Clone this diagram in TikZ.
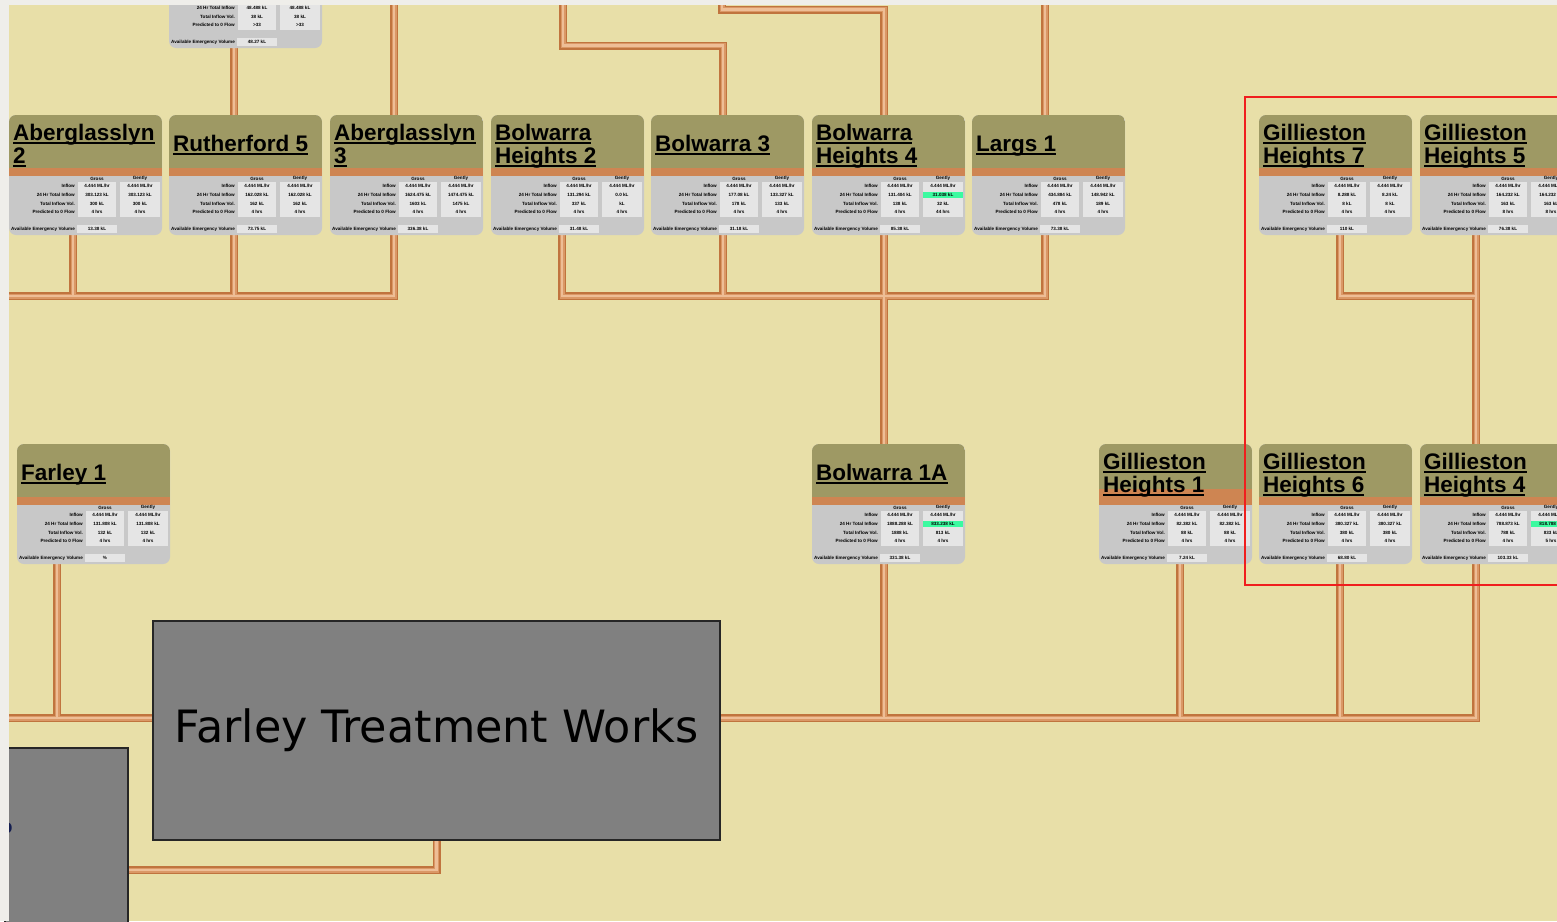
\documentclass[tikz,border=0pt]{standalone}
\usepackage{fontspec}
\setmainfont{Liberation Sans}
\newfontfamily\ftwfont{DejaVu Sans}
\usetikzlibrary{calc}
\definecolor{page}{RGB}{239,238,234}
\definecolor{canvas}{RGB}{232,223,168}
\definecolor{cardolive}{RGB}{158,153,100}
\definecolor{cardorange}{RGB}{206,133,82}
\definecolor{cardgray}{RGB}{200,200,200}
\definecolor{cellwhite}{RGB}{229,229,229}
\definecolor{hlgreen}{RGB}{60,250,160}
\definecolor{pipedark}{RGB}{192,116,62}
\definecolor{pipemid}{RGB}{218,152,102}
\definecolor{pipelight}{RGB}{238,190,150}
\definecolor{plantgray}{RGB}{128,128,128}
\definecolor{selred}{RGB}{240,30,30}
\definecolor{fragblue}{RGB}{20,30,80}
\pgfdeclarelayer{bg}\pgfdeclarelayer{pipes}\pgfdeclarelayer{fore}
\pgfsetlayers{bg,pipes,main,fore}
\newcommand\titlefont{\fontsize{22.5}{24}\selectfont\bfseries}
\newcommand\tinyfont{\fontsize{4.6}{5}\selectfont\bfseries}
\newcommand\ulx[1]{\setbox0=\hbox{#1}\rlap{\rule[-4pt]{\wd0}{2pt}}\box0}
\newcommand\hlv[1]{{\fboxsep=0pt\colorbox{hlgreen}{\makebox[39.5pt]{\rule[-1.6pt]{0pt}{6.4pt}#1}}}}
\tikzset{
  cardbox/.style={rectangle, minimum width=153pt, minimum height=120pt, inner sep=0pt, fill=cardgray, rounded corners=7pt},
  title/.style={anchor=base west, inner sep=0pt, font=\titlefont, text=black},
  lbl/.style={anchor=east, inner sep=0pt, font=\tinyfont, text=black},
  val/.style={anchor=center, inner sep=0pt, font=\tinyfont, text=black},
  plant/.style={rectangle, draw=black!85, line width=1.3pt, fill=plantgray, inner sep=0pt},
  pipeo/.style={draw=pipedark, line width=8pt},
  pipem/.style={draw=pipemid, line width=5pt},
  pipei/.style={draw=pipelight, line width=2.2pt},
}
% values: 24a 24b vola volb preda predb avail
\newcommand\cardset[7]{\def\va{#1}\def\vb{#2}\def\vc{#3}\def\vd{#4}\def\ve{#5}\def\vf{#6}\def\vg{#7}}
% #1 orange top, #2 name, #3 x, #4 y, #5 title line 1, #6 title line 2
\newcommand\card[6][53]{%
  \node[cardbox] (#2) at (#3+76.5,#4+60) {};
  \begin{scope}[shift={(#3,#4)}]
    \begin{scope}
      \clip[rounded corners=7pt] (0,0) rectangle (153,120);
      \fill[cardolive] (0,0) rectangle (153,#1);
      \fill[cardorange] (0,#1) rectangle (153,61);
    \end{scope}
    \fill[cellwhite] (69,67) rectangle (107,102);
    \fill[cellwhite] (111,67) rectangle (151,102);
    \fill[cellwhite] (68,110) rectangle (108,118);
    \node[val] (#2-h1) at (88,63.5) {Gross};
    \node[val] (#2-h2) at (131,63.5) {Gently};
    \node[lbl] (#2-l1) at (66,71) {Inflow};
    \node[lbl] (#2-l2) at (66,80) {24 Hr Total Inflow};
    \node[lbl] (#2-l3) at (66,88.5) {Total Inflow Vol.};
    \node[lbl] (#2-l4) at (66,97) {Predicted to 0 Flow};
    \node[lbl, anchor=west] (#2-l5) at (2,114) {Available Emergency Volume};
    \node[val] (#2-a1) at (88,71) {4.444 ML/hr};
    \node[val] (#2-b1) at (131,71) {4.444 ML/hr};
    \node[val] (#2-a2) at (88,80) {\va};
    \node[val] (#2-b2) at (131,80) {\vb};
    \node[val] (#2-a3) at (88,88.5) {\vc};
    \node[val] (#2-b3) at (131,88.5) {\vd};
    \node[val] (#2-a4) at (88,97) {\ve};
    \node[val] (#2-b4) at (131,97) {\vf};
    \node[val] (#2-av) at (88,114) {\vg};
    \if\relax\detokenize{#5}\relax\else
      \if\relax\detokenize{#6}\relax
        \node[title] (#2-t) at (4,36) {\ulx{#5}};
      \else
        \node[title] (#2-t) at (4,25) {\ulx{#5}};
        \node[title] (#2-u) at (4,48) {\ulx{#6}};
      \fi
    \fi
  \end{scope}}
\newcommand\pipepaths[1]{%
  \draw[#1] ([xshift=-11.5pt]tp.south) -- ([xshift=-11.5pt]r5.north);
  \draw[#1] (t1) -- ([xshift=-12.5pt]ab3.north);
  \draw[#1] (t2) -- ++(0,45.5) -| ([xshift=-4.5pt]b3.north);
  \draw[#1] (t3) -- ++(0,9.5) -| ([xshift=-4.5pt]bh4.north);
  \draw[#1] (t4) -- ([xshift=-3.5pt]l1.north);
  \draw[#1] (e1) -| ([xshift=-12.5pt]ab3.south);
  \draw[#1] ([xshift=-12.5pt]ab2.south) -- ++(0,61);
  \draw[#1] ([xshift=-11.5pt]r5.south) -- ++(0,61);
  \draw[#1] ([xshift=-5.5pt]bh2.south) -- ++(0,61) -| ([xshift=-3.5pt]l1.south);
  \draw[#1] ([xshift=-4.5pt]b3.south) -- ++(0,61);
  \draw[#1] ([xshift=-4.5pt]bh4.south) -- ([xshift=-4.5pt]b1a.north);
  \draw[#1] ([xshift=4.5pt]gh7.south) -- ++(0,61) -| ([xshift=-20.5pt]gh5.south);
  \draw[#1] ([xshift=-20.5pt]gh5.south) -- ([xshift=-20.5pt]gh4.north);
  \draw[#1] (e2) -- (e2 -| ftw.west);
  \draw[#1] ([xshift=-36.5pt]f1.south) -- ++(0,155);
  \draw[#1] ([xshift=-20.5pt]gh4.south) |- (e2 -| ftw.east);
  \draw[#1] ([xshift=-4.5pt]b1a.south) -- ++(0,155);
  \draw[#1] ([xshift=4.5pt]gh1.south) -- ++(0,155);
  \draw[#1] ([xshift=4.5pt]gh6.south) -- ++(0,155);
  \draw[#1] (ftw.south) |- (box2.east |- e3);
}
\begin{document}
\begin{tikzpicture}[x=1pt,y=-1pt]
\useasboundingbox (0,0) rectangle (1557,921);
\begin{pgfonlayer}{bg}
  \fill[canvas] (0,0) rectangle (1557,921);
\end{pgfonlayer}
\coordinate (t1) at (394,0);
\coordinate (t2) at (563,0);
\coordinate (t3) at (722,0);
\coordinate (t4) at (1045,0);
\coordinate (e1) at (0,296);
\coordinate (e2) at (0,718);
\coordinate (e3) at (0,870);
% cards
\cardset{48.488 kL}{48.488 kL}{38 kL}{38 kL}{>33}{>33}{48.27 kL}
\card{tp}{169}{-72}{}{}
\cardset{303.123 kL}{303.123 kL}{300 kL}{300 kL}{4 hrs}{4 hrs}{13.38 kL}
\card{ab2}{9}{115}{Aberglasslyn}{2}
\cardset{162.028 kL}{162.028 kL}{162 kL}{162 kL}{4 hrs}{4 hrs}{73.75 kL}
\card{r5}{169}{115}{Rutherford 5}{}
\cardset{1624.475 kL}{1474.475 kL}{1603 kL}{1475 kL}{4 hrs}{4 hrs}{336.38 kL}
\card{ab3}{330}{115}{Aberglasslyn}{3}
\cardset{131.294 kL}{0.0 kL}{337 kL}{kL}{4 hrs}{4 hrs}{31.48 kL}
\card{bh2}{491}{115}{Bolwarra}{Heights 2}
\cardset{177.08 kL}{133.327 kL}{178 kL}{133 kL}{4 hrs}{4 hrs}{31.18 kL}
\card{b3}{651}{115}{Bolwarra 3}{}
\cardset{131.404 kL}{\hlv{31.038 kL}}{138 kL}{32 kL}{4 hrs}{44 hrs}{85.38 kL}
\card{bh4}{812}{115}{Bolwarra}{Heights 4}
\cardset{434.884 kL}{148.942 kL}{478 kL}{189 kL}{4 hrs}{4 hrs}{73.38 kL}
\card{l1}{972}{115}{Largs 1}{}
\cardset{8.288 kL}{8.24 kL}{8 kL}{8 kL}{4 hrs}{4 hrs}{110 kL}
\card{gh7}{1259}{115}{Gillieston}{Heights 7}
\cardset{164.232 kL}{164.232 kL}{163 kL}{163 kL}{8 hrs}{8 hrs}{76.38 kL}
\card{gh5}{1420}{115}{Gillieston}{Heights 5}
\cardset{131.808 kL}{131.808 kL}{132 kL}{132 kL}{4 hrs}{4 hrs}{\%}
\card{f1}{17}{444}{Farley 1}{}
\cardset{1888.288 kL}{\hlv{833.238 kL}}{1888 kL}{813 kL}{4 hrs}{4 hrs}{331.38 kL}
\card{b1a}{812}{444}{Bolwarra 1A}{}
\cardset{82.382 kL}{82.382 kL}{88 kL}{88 kL}{4 hrs}{4 hrs}{7.24 kL}
\card[45]{gh1}{1099}{444}{Gillieston}{Heights 1}
\cardset{380.327 kL}{380.327 kL}{380 kL}{380 kL}{4 hrs}{4 hrs}{68.80 kL}
\card{gh6}{1259}{444}{Gillieston}{Heights 6}
\cardset{788.873 kL}{\hlv{818.788 kL}}{788 kL}{833 kL}{4 hrs}{5 hrs}{103.33 kL}
\card{gh4}{1420}{444}{Gillieston}{Heights 4}
% plants
\node[plant, minimum width=567pt, minimum height=219pt, font=\ftwfont\fontsize{44.5}{48}\selectfont] (ftw) at (436.5,730.5) {Farley Treatment Works};
\node[plant, minimum width=123pt, minimum height=200pt] (box2) at (66.5,848) {};
\node[inner sep=0pt, font=\fontsize{20}{20}\selectfont\bfseries, text=fragblue] (frag) at (6.5,828) {o};
% selection frame
\node[draw=selred, line width=2pt, minimum width=340pt, minimum height=488pt, inner sep=0pt] (sel) at (1415,341) {};
\begin{pgfonlayer}{pipes}
  \pipepaths{pipeo}
  \pipepaths{pipem}
  \pipepaths{pipei}
\end{pgfonlayer}
\begin{pgfonlayer}{fore}
  \fill[page] (0,0) rectangle (9,921);
  \fill[page] (0,0) rectangle (1557,5);
\end{pgfonlayer}
\end{tikzpicture}
\end{document}
